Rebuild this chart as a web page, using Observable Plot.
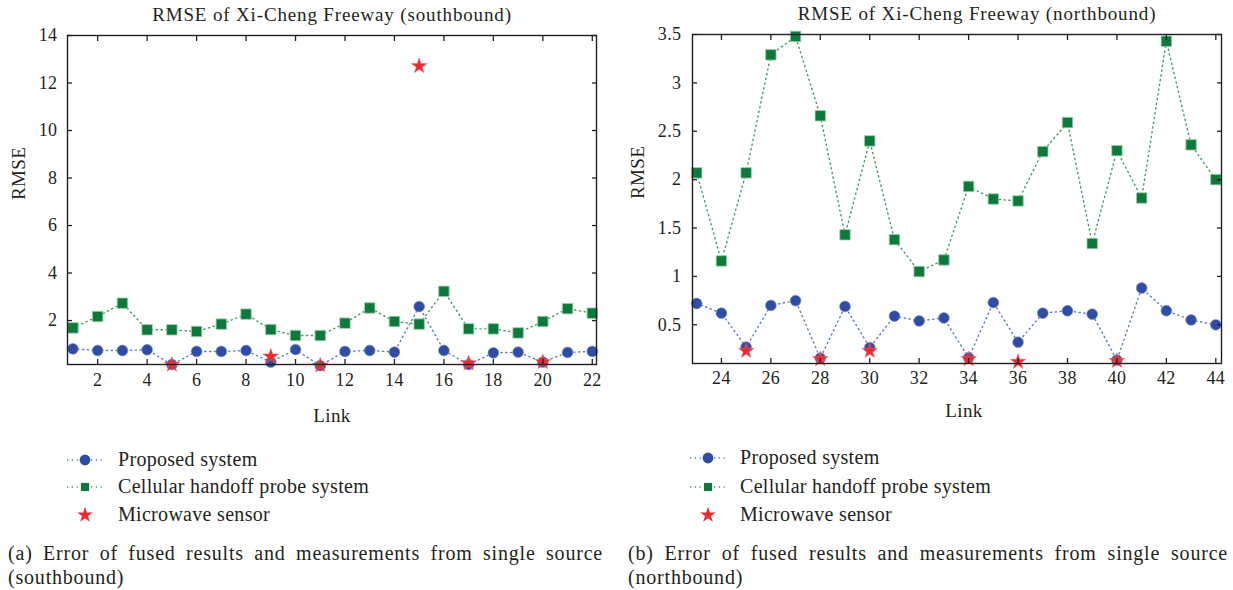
<!DOCTYPE html>
<html><head><meta charset="utf-8">
<script src="https://cdn.jsdelivr.net/npm/d3@7"></script>
<script src="https://cdn.jsdelivr.net/npm/@observablehq/plot@0.6"></script>
<style>
body{margin:0;background:#fff;font-family:"Liberation Serif",serif;color:#231f20;}
#wrap{position:relative;width:1233px;height:590px;overflow:hidden;background:#fff;}
.panel{position:absolute;top:0;}
.panel text{font-family:"Liberation Serif",serif !important;}
.legrow{position:absolute;font-size:20px;line-height:22px;white-space:nowrap;letter-spacing:0.3px;}
.cap{position:absolute;font-size:20px;line-height:24px;white-space:nowrap;letter-spacing:0.8px;}
.just{text-align:justify;text-align-last:justify;}
</style></head>
<body><div id="wrap"></div>
<script>
// ---- data ----
const southLinks = [1,2,3,4,5,6,7,8,9,10,11,12,13,14,15,16,17,18,19,20,21,22];
const southProposed = [0.81,0.74,0.74,0.77,0.15,0.70,0.70,0.74,0.25,0.78,0.10,0.70,0.74,0.67,2.59,0.74,0.15,0.64,0.67,0.25,0.66,0.70];
const southCellular = [1.69,2.17,2.73,1.61,1.61,1.54,1.85,2.27,1.62,1.37,1.37,1.89,2.53,1.96,1.85,3.23,1.65,1.65,1.48,1.96,2.50,2.31];
const southMicroLinks = [5,9,11,15,17,20];
const southMicro = [0.14,0.49,0.11,12.71,0.20,0.25];

const northLinks = [23,24,25,26,27,28,29,30,31,32,33,34,35,36,37,38,39,40,41,42,43,44];
const northProposed = [0.72,0.62,0.27,0.70,0.75,0.155,0.69,0.265,0.59,0.54,0.57,0.16,0.73,0.32,0.62,0.645,0.61,0.135,0.88,0.645,0.55,0.50];
const northCellular = [2.07,1.16,2.07,3.29,3.48,2.66,1.43,2.40,1.38,1.05,1.17,1.93,1.80,1.78,2.29,2.59,1.34,2.30,1.81,3.43,2.36,2.00];
const northMicroLinks = [25,28,30,34,36,40];
const northMicro = [0.23,0.145,0.23,0.145,0.117,0.127];

const southXTicks = [2,4,6,8,10,12,14,16,18,20,22];
const southYTicks = [2,4,6,8,10,12,14];
const northXTicks = [24,26,28,30,32,34,36,38,40,42,44];
const northYTicks = [0.5,1,1.5,2,2.5,3,3.5];

const seriesNames = ["Proposed system","Cellular handoff probe system","Microwave sensor"];
const titles = ["RMSE of Xi-Cheng Freeway (southbound)","RMSE of Xi-Cheng Freeway (northbound)"];
const captions = [["(a) Error of fused results and measurements from single source","(southbound)"],
                  ["(b) Error of fused results and measurements from single source","(northbound)"]];

// ---- styles ----
const BLUE = "#2e4da3", BLUE_L = "#5b78c4";
const GREEN = "#0d7a3c", GREEN_L = "#3f9a5e";
const RED = "#ee2a30";
const INK = "#231f20";
const FONT = '"Liberation Serif", serif';

function panel(o) {
  const P = o.links.map((l,i)=>({link:l, v:o.proposed[i]}));
  const C = o.links.map((l,i)=>({link:l, v:o.cellular[i]}));
  const M = o.microLinks.map((l,i)=>({link:l, v:o.micro[i]}));
  const fmt = d => String(d);
  return Plot.plot({
    width:o.width, height:o.height,
    marginLeft:o.m[0], marginRight:o.m[1], marginTop:o.m[2], marginBottom:o.m[3],
    x:{domain:o.xDomain},
    y:{domain:o.yDomain},
    style:{fontFamily:FONT, fontSize:"18px", color:INK, background:"transparent", overflow:"visible"},
    marks:[
      Plot.line(C, {x:"link", y:"v", stroke:GREEN_L, strokeWidth:1.4, strokeDasharray:"1.2 3.6"}),
      Plot.line(P, {x:"link", y:"v", stroke:BLUE_L, strokeWidth:1.4, strokeDasharray:"1.2 3.6"}),
      Plot.dot(C, {x:"link", y:"v", symbol:"square", r:5.9, fill:GREEN, stroke:"#9fcfae", strokeWidth:0.8}),
      Plot.dot(P, {x:"link", y:"v", symbol:"circle", r:5.4, fill:BLUE, stroke:"#7d92cc", strokeWidth:0.6}),
      Plot.dot(M, {x:"link", y:"v", symbol:"star", r:4.9, fill:RED, stroke:"#f26a6e", strokeWidth:0.5}),
      Plot.frame({stroke:INK, strokeWidth:1.4}),
      Plot.axisX(o.xTicks, {anchor:"bottom", tickSize:0, tickPadding:o.xPad, tickFormat:fmt, label:null, fontSize:18}),
      Plot.axisX(o.xTicks, {anchor:"bottom", tickSize:-5, tickFormat:()=>"", label:null, stroke:INK, strokeWidth:1.3}),
      Plot.axisX(o.xTicks, {anchor:"top", tickSize:-5, tickFormat:()=>"", label:null, stroke:INK, strokeWidth:1.3}),
      Plot.axisY(o.yTicks, {anchor:"left", tickSize:0, tickPadding:o.yPad, tickFormat:fmt, label:null, fontSize:18}),
      Plot.axisY(o.yTicks, {anchor:"left", tickSize:-5, tickFormat:()=>"", label:null, stroke:INK, strokeWidth:1.3}),
      Plot.axisY(o.yTicks, {anchor:"right", tickSize:-5, tickFormat:()=>"", label:null, stroke:INK, strokeWidth:1.3}),
      Plot.text([o.title], {frameAnchor:"top", dy:-21, dx:o.titleDx, lineAnchor:"middle", fontSize:19, fill:INK, className:"ttl"}),
      Plot.text(["RMSE"], {frameAnchor:"left", dx:o.yLabDx, rotate:-90, lineAnchor:"middle", fontSize:19, fill:INK}),
      Plot.text(["Link"], {frameAnchor:"bottom", dy:o.xLabDy, dx:o.xLabDx, lineAnchor:"middle", fontSize:19, fill:INK})
    ]
  });
}

const wrap = document.getElementById("wrap");

function place(el, left, top) {
  el.style.position = "absolute"; el.style.left = left + "px"; el.style.top = top + "px";
  wrap.appendChild(el);
}

const left = panel({
  links:southLinks, proposed:southProposed, cellular:southCellular, microLinks:southMicroLinks, micro:southMicro,
  width:616, height:430, m:[67,20,35,66],
  xDomain:[0.78,22.17], yDomain:[0.15,14], xTicks:southXTicks, yTicks:southYTicks,
  xPad:9, yPad:10, title:titles[0], titleDx:0, yLabDx:-49, xLabDy:51, xLabDx:0
});
left.classList.add("panel"); place(left, 0, 0);

const right = panel({
  links:northLinks, proposed:northProposed, cellular:northCellular, microLinks:northMicroLinks, micro:northMicro,
  width:613, height:430, m:[72,12,34,67],
  xDomain:[22.83,44.23], yDomain:[0.1,3.5], xTicks:northXTicks, yTicks:northYTicks,
  xPad:8, yPad:11, title:titles[1], titleDx:20, yLabDx:-55, xLabDy:47, xLabDx:7
});
right.classList.add("panel"); place(right, 620, 0);

document.querySelectorAll(".panel text").forEach(t => { t.style.letterSpacing = "0.4px"; });
document.querySelectorAll(".panel .ttl text").forEach(t => { t.style.letterSpacing = "0.85px"; });

// ---- legends ----
function legendSymbol(kind) {
  const ns = "http://www.w3.org/2000/svg";
  const svg = document.createElementNS(ns, "svg");
  svg.setAttribute("width", 40); svg.setAttribute("height", 20);
  const g = d3.select(svg);
  if (kind === 0 || kind === 1) {
    g.append("line").attr("x1",2).attr("x2",38).attr("y1",10).attr("y2",10)
      .attr("stroke", kind===0?BLUE_L:GREEN_L).attr("stroke-width",1.4).attr("stroke-dasharray","1.2 3.6");
  }
  const size = kind===0 ? Math.PI*5.4*5.4 : kind===1 ? Math.PI*4.6*4.6 : Math.PI*4.9*4.9;
  const sym = kind===0 ? d3.symbolCircle : kind===1 ? d3.symbolSquare : d3.symbolStar;
  g.append("path").attr("d", d3.symbol(sym, size)()).attr("transform","translate(20,10)")
    .attr("fill", kind===0?BLUE:kind===1?GREEN:RED);
  return svg;
}
function legend(symX, textX, rows) {
  seriesNames.forEach((name,i) => {
    const s = legendSymbol(i); place(s, symX-20, rows[i]-10);
    const t = document.createElement("div"); t.className = "legrow"; t.textContent = name;
    place(t, textX, rows[i]-12);
  });
}
legend(85, 118, [460,487,515]);
legend(708, 740, [458,487,515]);

// ---- captions ----
function caption(x, w, lines) {
  const a = document.createElement("div"); a.className = "cap just"; a.style.width = w + "px";
  a.style.whiteSpace = "normal"; a.textContent = lines[0]; place(a, x, 541);
  const b = document.createElement("div"); b.className = "cap"; b.textContent = lines[1]; place(b, x, 565);
}
caption(8, 595, captions[0]);
caption(628, 600, captions[1]);
</script>
</body></html>
